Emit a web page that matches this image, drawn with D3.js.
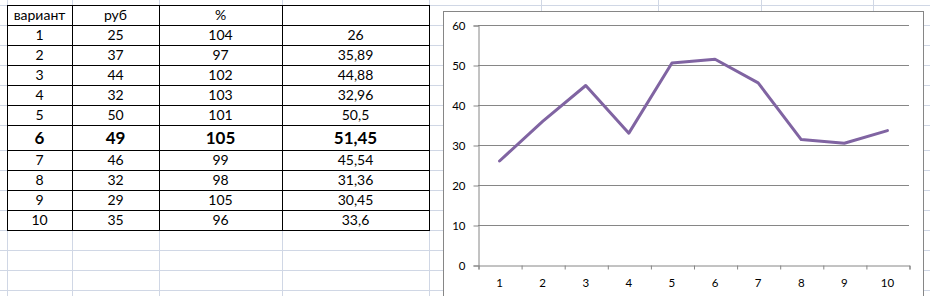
<!DOCTYPE html>
<html>
<head>
<meta charset="utf-8">
<script src="https://cdn.jsdelivr.net/npm/d3@7"></script>
<style>
  body { margin: 0; background: #fff; }
  svg { display: block; font-family: Lato, "Liberation Sans", sans-serif; }
</style>
</head>
<body>
<svg id="sheet" width="930" height="296"></svg>
<script>
// table data
var headers = ["вариант", "руб", "%", ""];
var variants = [1, 2, 3, 4, 5, 6, 7, 8, 9, 10];
var rub = [25, 37, 44, 32, 50, 49, 46, 32, 29, 35];
var pct = [104, 97, 102, 103, 101, 105, 99, 98, 105, 96];
var total = [26, 35.89, 44.88, 32.96, 50.5, 51.45, 45.54, 31.36, 30.45, 33.6];
var boldVariant = 6;
var yTicks = [0, 10, 20, 30, 40, 50, 60];

var svg = d3.select('#sheet');

// spreadsheet grid
var rowLines = [5, 25, 45, 65, 85, 105, 125, 150, 170, 190, 210, 230, 250, 270, 290];
var colLines = [7, 72, 159, 282, 429, 541, 658, 761, 873];

svg.append('g').selectAll('line').data(rowLines).join('line')
  .attr('x1', 0).attr('x2', 930)
  .attr('y1', d => d + 0.5).attr('y2', d => d + 0.5)
  .attr('stroke', '#d0d7e5');
svg.append('g').selectAll('line').data(colLines).join('line')
  .attr('x1', d => d + 0.5).attr('x2', d => d + 0.5)
  .attr('y1', 0).attr('y2', 296)
  .attr('stroke', '#d0d7e5');

// table
var colEdges = [7, 72, 159, 282, 429];
var rowEdges = [5, 25, 45, 65, 85, 105, 125, 150, 170, 190, 210, 230];
var fmt = v => String(v).replace('.', ',');

var rows = [headers].concat(variants.map((v, i) => [v, rub[i], pct[i], fmt(total[i])]));

var table = svg.append('g');
table.append('rect')
  .attr('x', 7).attr('y', 5).attr('width', 422).attr('height', 225)
  .attr('fill', '#fff');

rows.forEach(function(r, ri) {
  var y0 = rowEdges[ri], y1 = rowEdges[ri + 1];
  var bold = ri > 0 && variants[ri - 1] === boldVariant;
  table.selectAll(null).data(r).join('text')
    .attr('x', (d, ci) => (colEdges[ci] + colEdges[ci + 1]) / 2)
    .attr('y', (y0 + y1) / 2)
    .attr('dy', '0.36em')
    .attr('text-anchor', 'middle')
    .attr('font-size', bold ? 17 : 14)
    .attr('font-weight', bold ? 'bold' : 'normal')
    .attr('fill', '#000')
    .text(d => d);
});

table.selectAll('line.h').data(rowEdges).join('line')
  .attr('x1', 7).attr('x2', 430)
  .attr('y1', d => d + 0.5).attr('y2', d => d + 0.5)
  .attr('stroke', '#000');
table.selectAll('line.v').data(colEdges).join('line')
  .attr('x1', d => d + 0.5).attr('x2', d => d + 0.5)
  .attr('y1', 5).attr('y2', 231)
  .attr('stroke', '#000');

// chart
svg.append('rect')
  .attr('x', 443.5).attr('y', 11.5).attr('width', 480).attr('height', 300)
  .attr('fill', '#fff').attr('stroke', '#868686');

var x = d3.scaleBand().domain(variants).range([478, 909]);
var xEdge = d3.scaleLinear().domain([0, 10]).range([478, 909]);
var y = d3.scaleLinear().domain([0, 60]).range([265, 25]);

var chart = svg.append('g');

chart.append('g').selectAll('line').data(yTicks.filter(d => d > 0)).join('line')
  .attr('x1', 478).attr('x2', 909)
  .attr('y1', d => Math.round(y(d)) + 0.5).attr('y2', d => Math.round(y(d)) + 0.5)
  .attr('stroke', '#868686');

var yAxis = chart.append('g')
  .attr('transform', 'translate(478.5,0.5)')
  .call(d3.axisLeft(y).tickValues(yTicks).tickSize(5).tickPadding(8));
yAxis.selectAll('path, line').attr('stroke', '#868686');
yAxis.selectAll('text').attr('fill', '#000').attr('font-family', 'Lato, sans-serif').attr('font-size', 11.5);

var xTicks = chart.append('g')
  .attr('transform', 'translate(0.5,265.5)')
  .call(d3.axisBottom(xEdge).tickValues(d3.range(11)).tickSize(4).tickFormat(''));
xTicks.selectAll('path, line').attr('stroke', '#868686');

var xLabels = chart.append('g')
  .attr('transform', 'translate(0,265.5)')
  .call(d3.axisBottom(x).tickSize(0).tickPadding(13));
xLabels.select('.domain').remove();
xLabels.selectAll('text').attr('fill', '#000').attr('font-family', 'Lato, sans-serif').attr('font-size', 11.5);

var line = d3.line()
  .x((d, i) => x(variants[i]) + x.bandwidth() / 2)
  .y(d => y(d));

chart.append('path')
  .datum(total)
  .attr('d', line)
  .attr('fill', 'none')
  .attr('stroke', '#8064a2')
  .attr('stroke-width', 3)
  .attr('stroke-linejoin', 'round')
  .attr('stroke-linecap', 'round');
</script>
</body>
</html>
